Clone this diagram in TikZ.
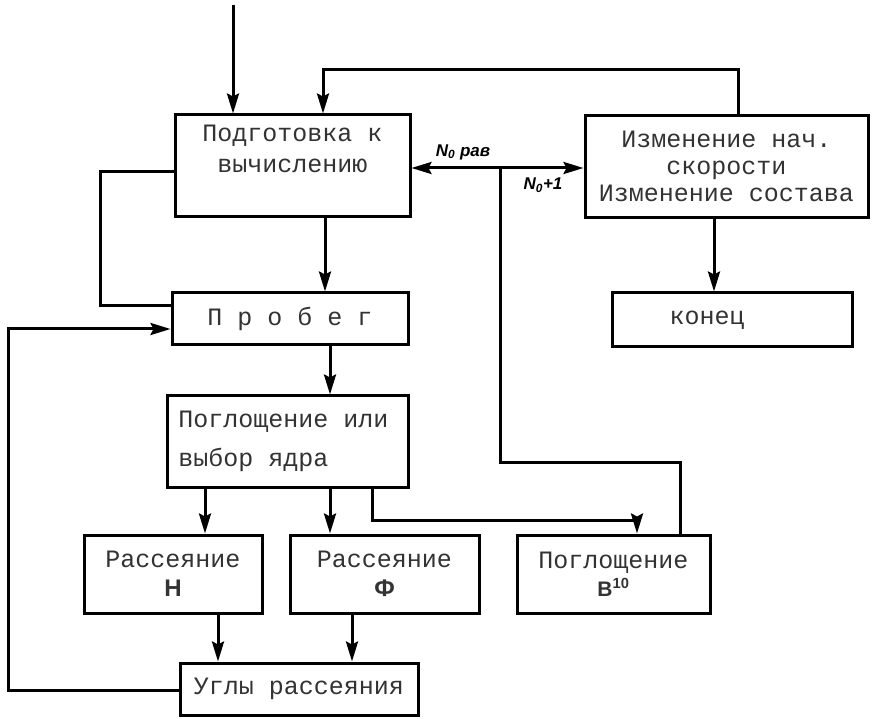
\documentclass[tikz,border=0pt]{standalone}
\usepackage{fontspec}
\usetikzlibrary{arrows.meta}
\newfontfamily\tw{Liberation Mono}
\newfontfamily\hw{Liberation Sans}
\begin{document}
\begin{tikzpicture}[x=1pt,y=-1pt,
  box/.style={draw, line width=3pt, inner sep=0pt, align=center,
    font=\tw\fontsize{25}{31}\selectfont, text=black!80},
  conn/.style={draw, line width=3pt},
  arr/.style={draw, line width=3pt, -{Stealth[length=20pt,width=12pt,inset=3pt]}},
  hand/.style={font=\hw\bfseries\itshape\fontsize{17}{17}\selectfont, inner sep=1pt}]
\useasboundingbox[fill=white] (0,0) rectangle (876,719);

\node[box, minimum width=235pt, minimum height=102pt] (A) at (292.5,166) {Подготовка к\\вычислению\\[4pt]};
\node[box, minimum width=283pt, minimum height=102pt, font=\tw\fontsize{25}{27}\selectfont] (B) at (726.5,166.5) {Изменение нач.\\скорости\\Изменение состава};
\node[box, minimum width=240pt, minimum height=54pt] (K) at (732,320) {конец\hspace*{50pt}};
\node[box, minimum width=236pt, minimum height=52pt] (P) at (290,319) {П р о б е г};
\node[box, minimum width=241pt, minimum height=91pt, font=\tw\fontsize{25}{39}\selectfont] (G) at (287.5,441.5) {Поглощение или\hspace*{8pt}\\\hspace*{-8pt}выбор ядра\hspace*{60pt}};
\node[box, minimum width=178pt, minimum height=78pt, font=\tw\fontsize{25}{29}\selectfont] (H) at (173,574) {Рассеяние\\{\hw\bfseries\fontsize{24}{24}\selectfont H}};
\node[box, minimum width=189pt, minimum height=78pt, font=\tw\fontsize{25}{29}\selectfont] (F) at (384.5,574) {Рассеяние\\{\hw\bfseries\fontsize{24}{24}\selectfont Ф}};
\node[box, minimum width=193pt, minimum height=78pt, font=\tw\fontsize{25}{28}\selectfont] (BB) at (613.5,574) {Поглощение\\{\hw\bfseries\fontsize{21}{21}\selectfont B\textsuperscript{10}}};
\node[box, minimum width=238pt, minimum height=52pt] (U) at (299,689) {Углы рассеяния};

% input
\coordinate (in) at (233,5);
\path[arr] (in) -- (in |- A.north);
% feedback from B to A
\coordinate (fb) at (738,70);
\coordinate (fa) at (323,70);
\path[arr] (fb |- B.north) -- (fb) -- (fa) -- (fa |- A.north);
% junction from B10
\coordinate (j) at (500,168);
\coordinate (jd) at (500,462);
\coordinate (jr) at (680,462);
\path[conn] (jr |- BB.north) -- (jr) -- (jd) -- (j);
\path[arr] (j) -- (j -| A.east);
\path[arr] (j) -- (j -| B.west);
\node[hand] (l1) at (463,152) {N\textsubscript{0} рав};
\node[hand] (l2) at (543,185) {N\textsubscript{0}+1};
% A to P
\coordinate (xa) at (325,0);
\path[arr] (xa |- A.south) -- (xa |- P.north);
% A left to P left
\coordinate (al) at (100,172);
\coordinate (pl) at (100,306);
\path[conn] (al -| A.west) -- (al) -- (pl) -- (pl -| P.west);
% loop from U to P
\coordinate (ul) at (8,690);
\coordinate (ut) at (8,329);
\path[arr] (ul -| U.west) -- (ul) -- (ut) -- (ut -| P.west);
% P to G
\coordinate (xp) at (330,0);
\path[arr] (xp |- P.south) -- (xp |- G.north);
% B to K
\coordinate (xk) at (714,0);
\path[arr] (xk |- B.south) -- (xk |- K.north);
% G to H, F, BB
\coordinate (xh) at (205,0);
\coordinate (xf) at (330,0);
\coordinate (xg) at (372,520);
\coordinate (xb) at (637,520);
\path[arr] (xh |- G.south) -- (xh |- H.north);
\path[arr] (xf |- G.south) -- (xf |- F.north);
\path[arr] (xg |- G.south) -- (xg) -- (xb) -- (xb |- BB.north);
% H, F to U
\coordinate (xu1) at (218,0);
\coordinate (xu2) at (352,0);
\path[arr] (xu1 |- H.south) -- (xu1 |- U.north);
\path[arr] (xu2 |- F.south) -- (xu2 |- U.north);
\end{tikzpicture}
\end{document}
